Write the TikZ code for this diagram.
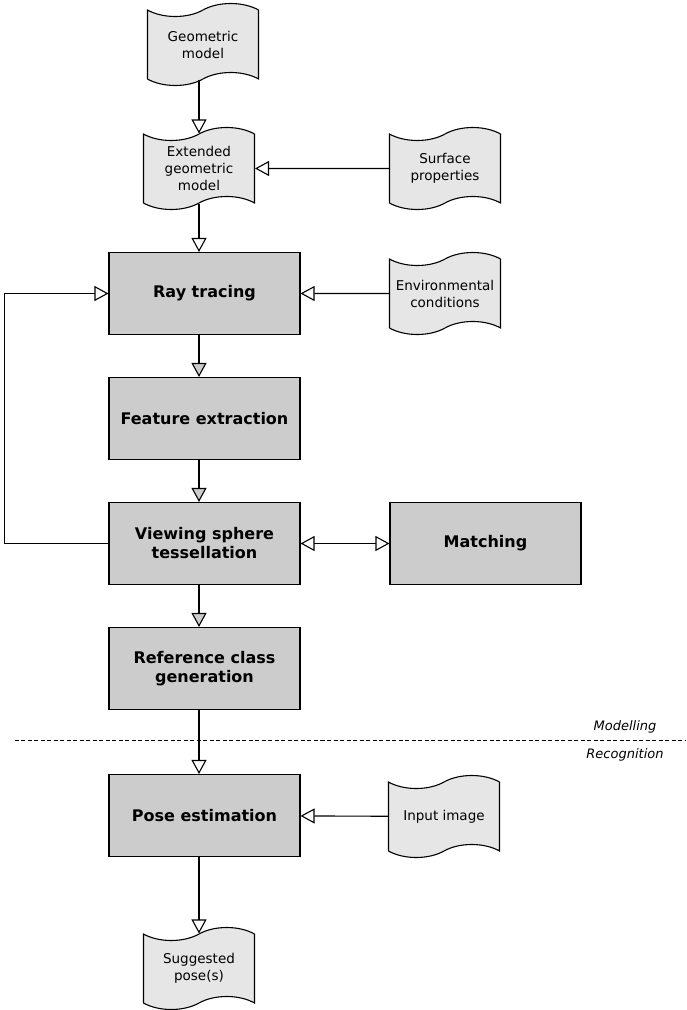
\documentclass[tikz,border=0pt]{standalone}
\usepackage{fontspec}
\setmainfont{DejaVu Sans}
\usetikzlibrary{shapes.symbols,arrows.meta,positioning}
\definecolor{boxgray}{HTML}{CCCCCC}
\definecolor{docgray}{HTML}{E6E6E6}

\begin{document}
\begin{tikzpicture}[node distance = 125pt, auto]
    \useasboundingbox (-204.5pt,293.5pt) rectangle (481.5pt,-716.5pt);
    % Draw the process boxes and the document shapes
    \tikzstyle{process}  = [rectangle, minimum width = 191pt, minimum height = 82pt, text centered, align = center, draw = black, line width = 1.1pt, fill = boxgray, font = \fontsize{16}{19}\selectfont\bfseries]
    \tikzstyle{docshape} = [tape, tape bend top = in and out, tape bend bottom = in and out, tape bend height = 13pt, minimum width = 111pt, minimum height = 82pt, text centered, align = center, draw = black, line width = 1.1pt, fill = docgray, font = \fontsize{13.5}{17}\selectfont]
    \tikzstyle{phase}    = [font = \fontsize{13}{15}\selectfont\itshape]
    \tikzstyle{arrow}    = [line width = 1.1pt, -{Triangle[length = 14pt, width = 15pt, fill = white]}]
    \tikzstyle{grayarrow} = [line width = 1.1pt, -{Triangle[length = 14pt, width = 15pt, fill = boxgray]}]
    \tikzstyle{biarrow}  = [line width = 1.1pt, {Triangle[length = 14pt, width = 15pt, fill = white]}-{Triangle[length = 14pt, width = 15pt, fill = white]}]

    \node[process] (ray) at (0,0) {Ray tracing};
    \node[process, below of = ray] (feat) {Feature extraction};
    \node[process, below of = feat] (view) {Viewing sphere\\tessellation};
    \node[process, below of = view] (refc) {Reference class\\generation};
    \node[process, below of = refc, yshift = -22pt] (pose) {Pose estimation};
    \node[process, right of = view, xshift = 156pt] (match) {Matching};

    \node[docshape, above of = ray, xshift = -5.5pt] (ext) {Extended\\geometric\\model};
    \node[docshape, above of = ext, xshift = 4pt, yshift = -1pt] (geo) {Geometric\\model};
    \node[docshape, right of = ext, xshift = 121pt] (surf) {Surface\\properties};
    \node[docshape, right of = ray, xshift = 115.5pt] (env) {Environmental\\conditions};
    \node[docshape, right of = pose, xshift = 114.5pt, yshift = -1pt] (input) {Input image};
    \node[docshape, below of = pose, xshift = -5.5pt, yshift = -28pt] (sugg) {Suggested\\pose(s)};

    % Modelling / recognition split
    \coordinate (splitL) at (-189.5pt,-446.5pt);
    \coordinate (splitR) at (481.5pt,-446.5pt);
    \draw[line width = 0.8pt, dash pattern = on 4pt off 2.5pt] (splitL) -- (splitR);
    \node[phase] (modl) at (420.5pt,-433pt) {Modelling};
    \node[phase] (recg) at (420.5pt,-461pt) {Recognition};

    \draw[arrow] (geo.south -| ext) -- (ext.north);
    \draw[arrow] (surf) -- (ext);
    \draw[arrow] (ext.south) -- (ray.north -| ext);
    \draw[arrow] (env) -- (ray);
    \draw[grayarrow] (ray.south -| ext) -- (feat.north -| ext);
    \draw[grayarrow] (feat.south -| ext) -- (view.north -| ext);
    \draw[grayarrow] (view.south -| ext) -- (refc.north -| ext);
    \draw[arrow] (refc.south -| ext) -- (pose.north -| ext);
    \draw[arrow] (input) -- (pose);
    \draw[arrow] (pose.south -| ext) -- (sugg.north);
    \draw[biarrow] (view) -- (match);
    \draw[arrow] (view.west) -- ++(-104pt,0) |- (ray.west);
  \end{tikzpicture}
\end{document}
